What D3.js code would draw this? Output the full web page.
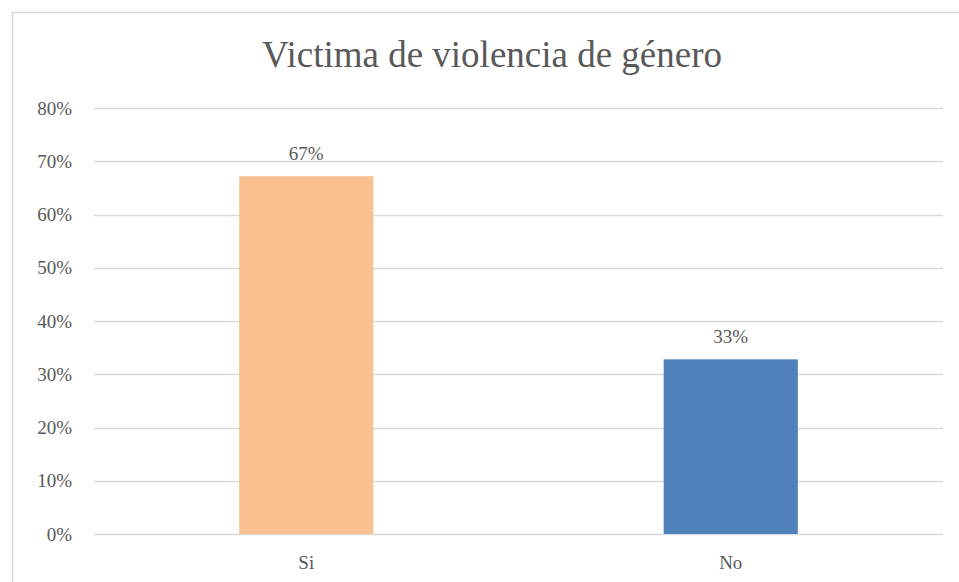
<!DOCTYPE html>
<html>
<head>
<meta charset="utf-8">
<script src="https://cdn.jsdelivr.net/npm/d3@7"></script>
<style>
  body { margin: 0; background: #fff; }
  text { font-family: "Liberation Serif", "Times New Roman", serif; fill: #595959; }
</style>
</head>
<body>
<div id="chart"></div>
<script>
var categories = ["Si", "No"];
var values = [0.672, 0.328];
var labels = ["67%", "33%"];
var colors = ["#F9C18F", "#4F81BD"];
var yTicks = [0, 0.1, 0.2, 0.3, 0.4, 0.5, 0.6, 0.7, 0.8];

var W = 959, H = 582;
var margin = {top: 108, right: 16, bottom: 48, left: 94},
    width = W - margin.left - margin.right,
    height = H - margin.top - margin.bottom;

var root = d3.select("#chart")
  .append("svg")
    .attr("width", W)
    .attr("height", H);

// chart frame
root.append("rect")
  .attr("x", 12.5).attr("y", 12.5)
  .attr("width", W).attr("height", H)
  .attr("fill", "none")
  .attr("stroke", "#D9D9D9")
  .attr("stroke-width", 1.5);

root.append("text")
  .attr("x", 492).attr("y", 67)
  .attr("text-anchor", "middle")
  .style("font-size", "37px")
  .text("Victima de violencia de género");

var svg = root.append("g")
  .attr("transform", "translate(" + margin.left + "," + margin.top + ")");

var x = d3.scaleBand()
  .domain(categories)
  .range([0, width])
  .padding(0);

var y = d3.scaleLinear()
  .domain([0, 0.8])
  .range([height, 0]);

// gridlines
svg.append("g")
  .selectAll("line")
  .data(yTicks)
  .enter()
  .append("line")
    .attr("x1", 0).attr("x2", width)
    .attr("y1", function(d) { return Math.round(y(d)) + 0.5; })
    .attr("y2", function(d) { return Math.round(y(d)) + 0.5; })
    .attr("stroke", "#D9D9D9")
    .attr("stroke-width", 1.5);

// y axis labels
var yAxis = svg.append("g")
  .attr("font-family", null)
  .call(d3.axisLeft(y).tickValues(yTicks).tickFormat(d3.format(".0%")).tickSize(0).tickPadding(22));
yAxis.select(".domain").remove();
yAxis.selectAll("text")
  .style("font-size", "19px")
  .attr("fill", "#595959");

// x axis labels
var xAxis = svg.append("g")
  .attr("transform", "translate(0," + height + ")")
  .call(d3.axisBottom(x).tickSize(0).tickPadding(22));
xAxis.select(".domain").remove();
xAxis.selectAll("text")
  .style("font-size", "19px")
  .attr("fill", "#595959");

var barW = x.bandwidth() * 0.316;

svg.selectAll("mybar")
  .data(values)
  .enter()
  .append("rect")
    .attr("x", function(d, i) { return x(categories[i]) + x.bandwidth() / 2 - barW / 2; })
    .attr("y", function(d) { return y(d); })
    .attr("width", barW)
    .attr("height", function(d) { return height - y(d); })
    .attr("fill", function(d, i) { return colors[i]; });

svg.selectAll("barlabel")
  .data(values)
  .enter()
  .append("text")
    .attr("x", function(d, i) { return x(categories[i]) + x.bandwidth() / 2; })
    .attr("y", function(d) { return y(d) - 16; })
    .attr("text-anchor", "middle")
    .style("font-size", "19px")
    .text(function(d, i) { return labels[i]; });
</script>
</body>
</html>
